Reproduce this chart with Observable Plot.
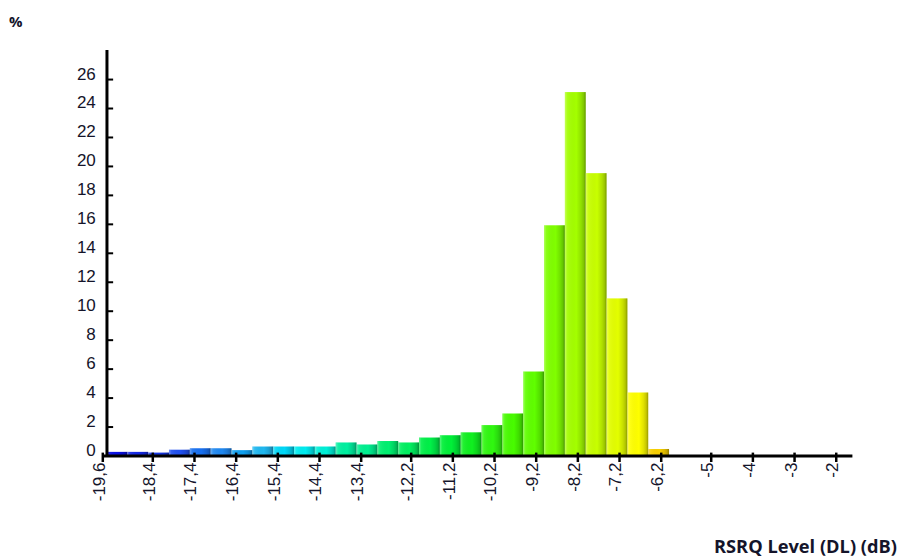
<!DOCTYPE html>
<html>
<head>
<meta charset="utf-8">
<script src="https://cdn.jsdelivr.net/npm/d3@7"></script>
<script src="https://cdn.jsdelivr.net/npm/@observablehq/plot@0.6"></script>
<style>
  html, body { margin: 0; padding: 0; background: #fff; }
  #chart { width: 900px; height: 557px; }
</style>
</head>
<body>
<div id="chart"></div>
<script>
// ---- Data ----
const binStart = [-19.5, -19, -18.5, -18, -17.5, -17, -16.5, -16, -15.5, -15, -14.5, -14, -13.5,
                  -13, -12.5, -12, -11.5, -11, -10.5, -10, -9.5, -9, -8.5, -8, -7.5, -7, -6.5];
const percent = [0.25, 0.25, 0.2, 0.4, 0.5, 0.5, 0.37, 0.62, 0.62, 0.62, 0.62, 0.9, 0.76,
                 1.0, 0.9, 1.24, 1.4, 1.6, 2.1, 2.9, 5.8, 15.9, 25.1, 19.5, 10.85, 4.35, 0.45];
const barColors = ["#0a10e6", "#1428e6", "#1434e4", "#2050f0", "#1870f0", "#2088f0", "#10a0f0",
                   "#20b8f0", "#00d8f8", "#00ecf0", "#00f0d8", "#00f0a0", "#00f090", "#00f070",
                   "#00f060", "#00f048", "#00f038", "#10f020", "#30f810", "#48fc00", "#60ff00",
                   "#80ff00", "#a4ff00", "#c8ff00", "#e4ff00", "#ffff00", "#f8d000"];
const binWidth = 0.5;
const xTickValues = [-19.6, -18.4, -17.4, -16.4, -15.4, -14.4, -13.4, -12.2, -11.2, -10.2,
                     -9.2, -8.2, -7.2, -6.2, -5, -4, -3, -2];
const xTickLabels = ["-19,6", "-18,4", "-17,4", "-16,4", "-15,4", "-14,4", "-13,4", "-12,2",
                     "-11,2", "-10,2", "-9,2", "-8,2", "-7,2", "-6,2", "-5", "-4", "-3", "-2"];
const yTickValues = [0, 2, 4, 6, 8, 10, 12, 14, 16, 18, 20, 22, 24, 26];
const xDomain = [-19.6, -1.6];
const yDomain = [0, 28];
const yUnit = "%";
const xTitle = "RSRQ Level (DL) (dB)";

const bars = binStart.map((x, i) => ({x1: x, x2: x + binWidth, y: percent[i], color: barColors[i]}));
const xTicks = xTickValues.map((v, i) => ({value: v, label: xTickLabels[i]}));
const axisX0 = binStart[0];

const chart = Plot.plot({
  width: 900,
  height: 557,
  marginLeft: 102.3,
  marginRight: 47.6,
  marginTop: 50.1,
  marginBottom: 101.5,
  x: {domain: xDomain, axis: null},
  y: {domain: yDomain, axis: null},
  color: {type: "identity"},
  style: {background: "#fff", fontFamily: "'Liberation Sans', Arial, sans-serif"},
  marks: [
    Plot.rectY(bars, {x1: "x1", x2: "x2", y: "y", fill: "color"}),
    Plot.rectY(bars, {x1: "x1", x2: "x2", y: "y", fill: "url(#barShade)"}),
    // axes lines
    Plot.ruleY([0], {stroke: "#000", strokeWidth: 3}),
    Plot.ruleX([axisX0], {stroke: "#000", strokeWidth: 3}),
    // y ticks (inside, to the right of the axis)
    Plot.ruleY(yTickValues, {x1: axisX0, x2: axisX0 + 0.16, stroke: "#000", strokeWidth: 2}),
    // x ticks
    Plot.ruleX(xTicks, {x: "value", y1: 0.2, y2: -0.45, stroke: "#000", strokeWidth: 2.5}),
    // y tick labels
    Plot.text(yTickValues, {y: d => d, text: d => String(d), frameAnchor: "left",
      textAnchor: "end", dx: -7, dy: -5.5, fontSize: 17, fill: "#14142a"}),
    // x tick labels
    Plot.text(xTicks, {x: "value", y: 0, text: "label", rotate: -90, textAnchor: "end",
      lineAnchor: "middle", dx: -3.5, dy: 6.5, fontSize: 17, fill: "#14142a"})
  ]
});

const svg = d3.select(chart);
const defs = svg.insert("defs", ":first-child");
const grad = defs.append("linearGradient").attr("id", "barShade")
  .attr("x1", "0").attr("x2", "1").attr("y1", "0").attr("y2", "0");
[[0, "#fff", 0.35], [0.12, "#fff", 0.08], [0.55, "#000", 0], [0.78, "#000", 0.12], [0.9, "#000", 0.22], [1, "#000", 0.4]]
  .forEach(([o, c, a]) => grad.append("stop").attr("offset", o).attr("stop-color", c).attr("stop-opacity", a));

svg.append("text").attr("x", 9).attr("y", 27).attr("text-anchor", "start")
  .attr("font-family", "'Open Sans', sans-serif").attr("font-weight", 700).attr("font-size", 15)
  .attr("fill", "#14142a").text(yUnit);
svg.append("text").attr("x", 897).attr("y", 552.5).attr("text-anchor", "end")
  .attr("font-family", "'Open Sans', sans-serif").attr("font-weight", 700).attr("font-size", 17)
  .attr("textLength", 183).attr("lengthAdjust", "spacingAndGlyphs")
  .attr("fill", "#14142a").text(xTitle);

document.getElementById("chart").append(chart);
</script>
</body>
</html>
